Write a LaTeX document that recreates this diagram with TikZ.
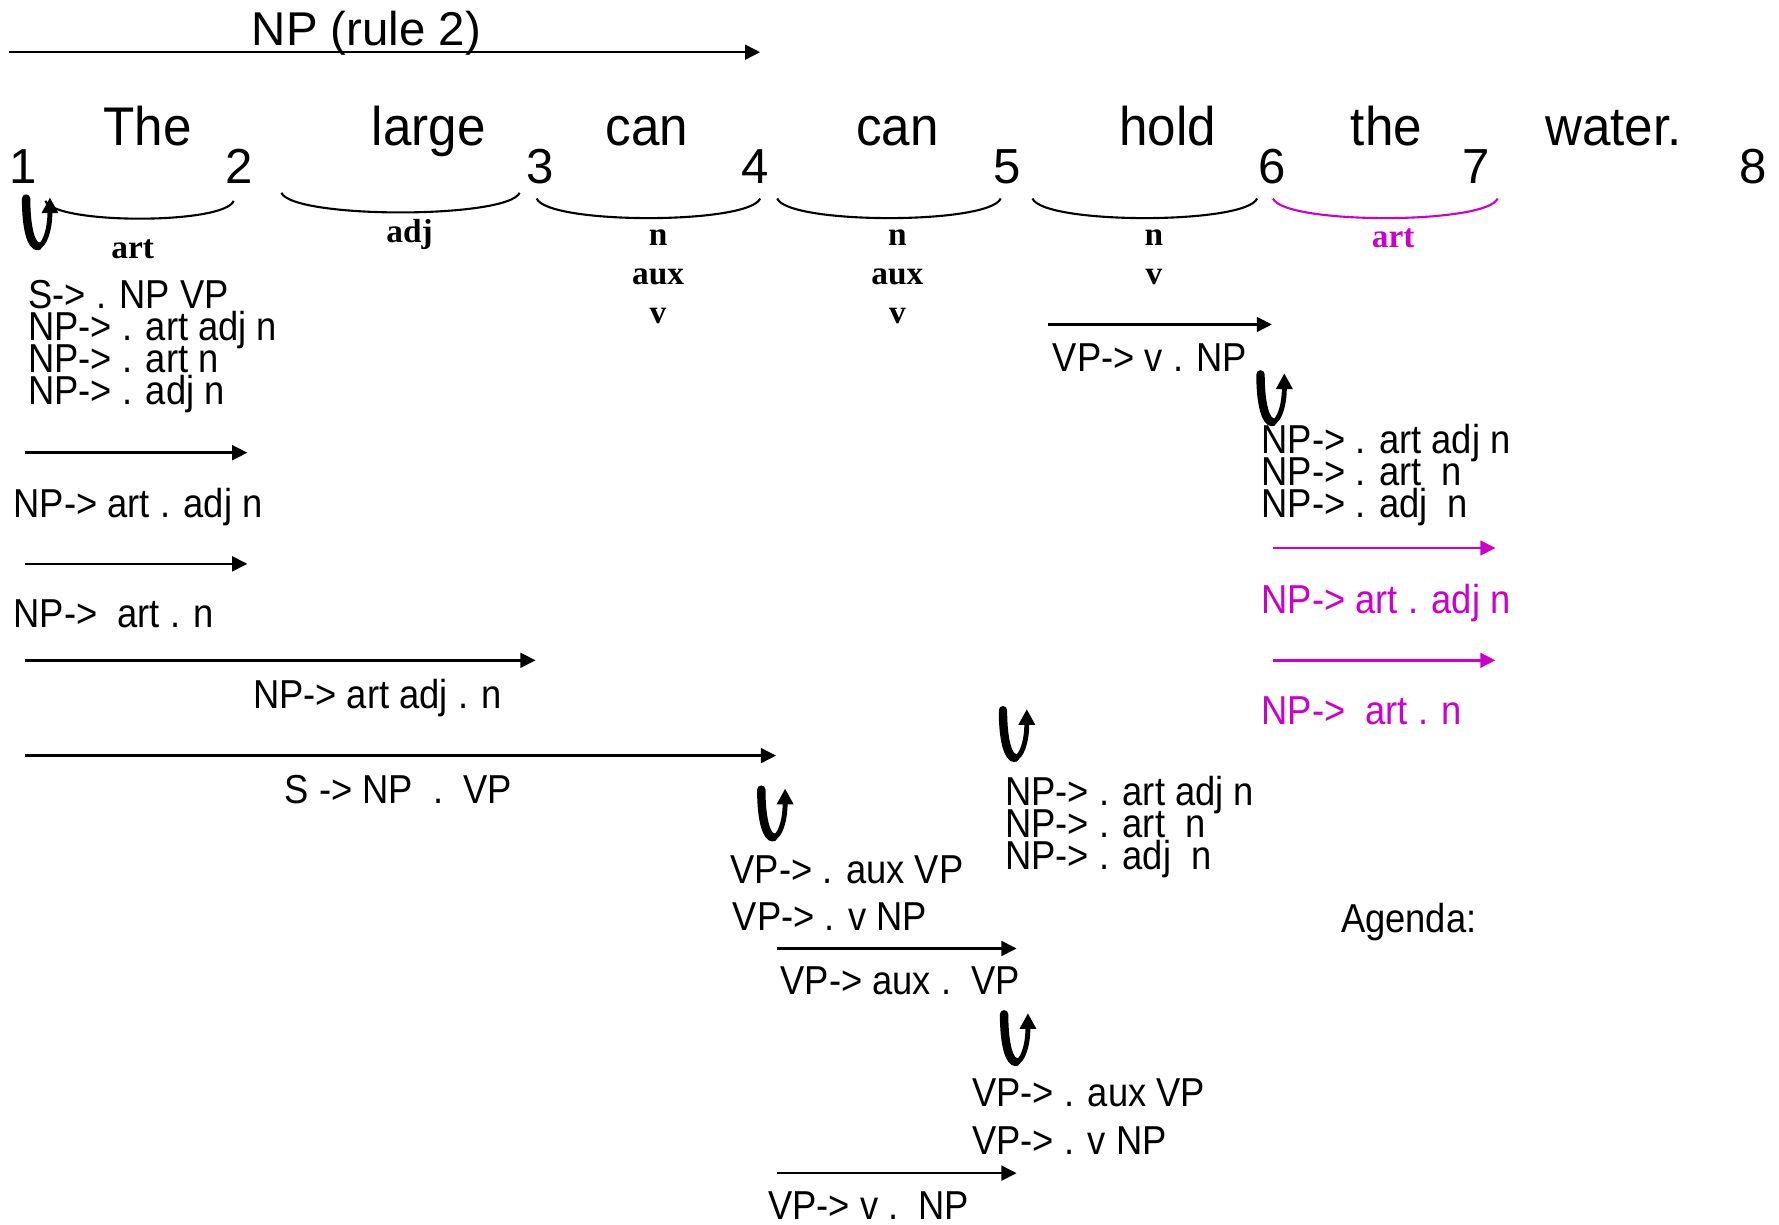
\documentclass[tikz,border=0pt]{standalone}
\usepackage{fontspec}
\setmainfont{Liberation Sans}
\newfontfamily\wordfont[FakeStretch=0.94]{Liberation Sans}
\newfontfamily\itemfont[FakeStretch=0.9]{Liberation Sans}
\newfontfamily\catfont{Liberation Serif}
\usetikzlibrary{arrows.meta,positioning}
\definecolor{done}{RGB}{204,0,204}

\tikzset{predict/.pic={
  \draw[line width=2.4pt, line cap=round]
    (-12,-20) .. controls (-12,8) and (-7,22) .. (-1.5,22);
  \draw[line width=1.4pt, -{Triangle[length=4.5pt,width=4.5pt]}]
    (-1.5,22) .. controls (4,22) and (9,8) .. (9,-21);
}}

\begin{document}
\begin{tikzpicture}
  [x=0.011346cm, y=-0.011346cm,
   every node/.style={inner sep=0pt, outer sep=0pt},
   word/.style={anchor=base, font=\wordfont\fontsize{15.5}{17}\selectfont},
   vertex/.style={anchor=base, font=\fontsize{14}{16}\selectfont},
   cat/.style={align=center, font=\catfont\bfseries\fontsize{9.5}{11}\selectfont},
   itemtext/.style={anchor=north west, align=left,
                    font={\itemfont\fontsize{11.5}{9.1}\selectfont\lineskiplimit=-20pt}},
   chartarc/.style={line width=0.7pt, -{Triangle[length=4.3pt,width=4.2pt]}},
   spanline/.style={line width=0.6pt}]
  \useasboundingbox (0,0) rectangle (1568,1079);

  % the sentence and its vertices
  \node[anchor=base, font=\fontsize{13.5}{15}\selectfont] (np2) at (323,40) {NP (rule 2)};
  \node[word] (the)   at (130,128)  {The};
  \node[word] (large) at (378,128)  {large};
  \node[word] (can1)  at (570,128)  {can};
  \node[word] (can2)  at (791,128)  {can};
  \node[word] (hold)  at (1029,128) {hold};
  \node[word] (the2)  at (1222,128) {the};
  \node[word] (water) at (1422,128) {water.};
  \node[vertex] (v1) at (20,162)   {1};
  \node[vertex] (v2) at (211,162)  {2};
  \node[vertex] (v3) at (476,162)  {3};
  \node[vertex] (v4) at (666,162)  {4};
  \node[vertex] (v5) at (888,162)  {5};
  \node[vertex] (v6) at (1121,162) {6};
  \node[vertex] (v7) at (1301,162) {7};
  \node[vertex] (v8) at (1545,162) {8};

  % lexical categories
  \draw[spanline] (40,177) .. controls (48,198) and (198,198) .. (206,177);
  \draw[spanline] (248,170) .. controls (259,193) and (447,193) .. (458,170);
  \draw[spanline] (473,175) .. controls (483,198) and (660,198) .. (670,175);
  \draw[spanline] (685,175) .. controls (695,198) and (872,198) .. (882,175);
  \draw[spanline] (910,175) .. controls (920,198) and (1098,198) .. (1108,175);
  \draw[spanline, done] (1122,175) .. controls (1132,198) and (1310,198) .. (1320,175);
  \node[cat] (c1) at (117,220) {art};
  \node[cat] (c2) at (361,207) {adj};
  \node[cat] (c3) at (580,244) {n\\aux\\v};
  \node[cat] (c4) at (791,244) {n\\aux\\v};
  \node[cat] (c5) at (1017,227) {n\\v};
  \node[cat, done] (c6) at (1228,210) {art};

  % predictions
  \pic at (35,195) {predict};
  \pic at (683,716) {predict};
  \pic at (896,646) {predict};
  \pic at (897,914) {predict};
  \pic at (1123,350) {predict};

  % arcs
  \coordinate (t0) at (8,46);      \coordinate (t1) at (670,46);
  \coordinate (a1) at (22,399);    \coordinate (b1) at (218,399);
  \coordinate (a2) at (22,497);    \coordinate (b2) at (218,497);
  \coordinate (a3) at (22,582);    \coordinate (b3) at (472,582);
  \coordinate (a4) at (22,666);    \coordinate (b4) at (684,666);
  \coordinate (a5) at (685,836);   \coordinate (b5) at (896,836);
  \coordinate (a6) at (685,1034);  \coordinate (b6) at (896,1034);
  \coordinate (a7) at (924,286);   \coordinate (b7) at (1121,286);
  \coordinate (a8) at (1122,483);  \coordinate (b8) at (1318,483);
  \coordinate (a9) at (1122,582);  \coordinate (b9) at (1318,582);
  \draw[chartarc] (t0) -- (t1);
  \draw[chartarc] (a1) -- (b1);
  \draw[chartarc] (a2) -- (b2);
  \draw[chartarc] (a3) -- (b3);
  \draw[chartarc] (a4) -- (b4);
  \draw[chartarc] (a5) -- (b5);
  \draw[chartarc] (a6) -- (b6);
  \draw[chartarc] (a7) -- (b7);
  \draw[chartarc, done] (a8) -- (b8);
  \draw[chartarc, done] (a9) -- (b9);

  % items
  \node[itemtext] (s1) at (25,247) {S-> . NP VP\\NP-> . art adj n\\NP-> . art n\\NP-> . adj n};
  \node[itemtext] (s2) at (12,430) {NP-> art . adj n};
  \node[itemtext] (s3) at (12,529) {NP->\ \ art . n};
  \node[itemtext] (s4) at (223,599) {NP-> art adj . n};
  \node[itemtext] (s5) at (251,683) {S -> NP\ \ .\ \ VP};
  \node[itemtext] (s6) at (644,754) {VP-> . aux VP};
  \node[itemtext] (s7) at (646,796) {VP-> . v NP};
  \node[itemtext] (s8) at (688,852) {VP-> aux .\ \ VP};
  \node[itemtext] (s9) at (857,951) {VP-> . aux VP};
  \node[itemtext] (s10) at (857,993) {VP-> . v NP};
  \node[itemtext] (s11) at (677,1050) {VP-> v .\ \ NP};
  \node[itemtext] (s12) at (928,303) {VP-> v . NP};
  \node[itemtext] (s13) at (1112,374) {NP-> . art adj n\\NP-> . art\ \ n\\NP-> . adj\ \ n};
  \node[itemtext, done] (s14) at (1112,515) {NP-> art . adj n};
  \node[itemtext, done] (s15) at (1112,614) {NP->\ \ art . n};
  \node[itemtext] (s16) at (886,684) {NP-> . art adj n\\NP-> . art\ \ n\\NP-> . adj\ \ n};
  \node[itemtext] (agenda) at (1182,796) {Agenda:};
\end{tikzpicture}
\end{document}
